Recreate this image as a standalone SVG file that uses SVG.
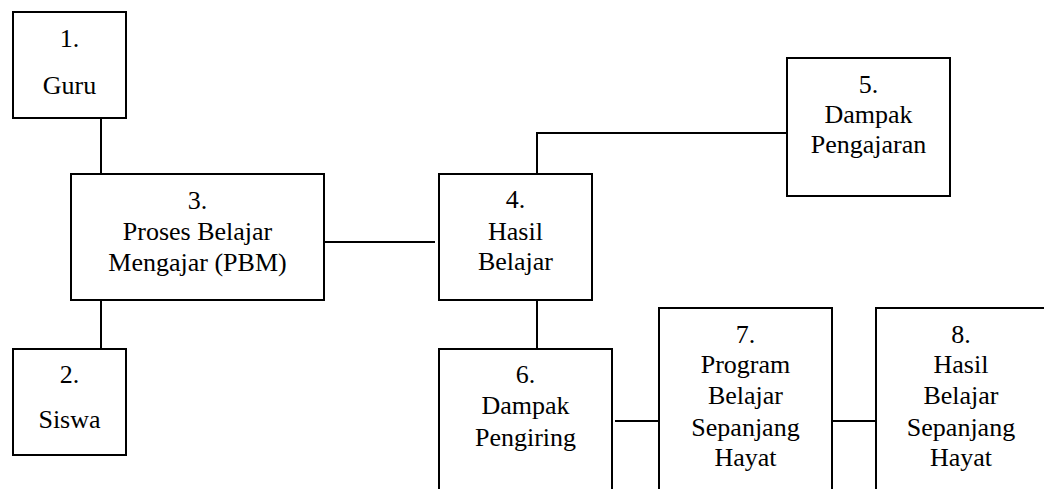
<svg xmlns="http://www.w3.org/2000/svg" width="1044" height="489" viewBox="0 0 1044 489" font-family="Liberation Serif, Times New Roman, DejaVu Serif, serif">
<style>
.box{fill:#fff;stroke:#000;stroke-width:2}
.ln{fill:none;stroke:#000;stroke-width:2}
.t{font-size:26px;fill:#000;text-anchor:middle}
</style>
<rect width="1044" height="489" fill="#fff"/>
<g id="connectors">
<path class="ln" d="M101 118V174"/>
<path class="ln" d="M101 300V349"/>
<path class="ln" d="M324 242H435"/>
<path class="ln" d="M537 174V133H787"/>
<path class="ln" d="M537 300V349"/>
<path class="ln" d="M615 421H659"/>
<path class="ln" d="M832 421H876"/>
</g>
<g id="node1" class="t">
<rect class="box" x="13" y="12" width="113" height="106"/>
<text x="69.5" y="47">1.</text>
<text x="69.5" y="94">Guru</text>
</g>
<g id="node2" class="t">
<rect class="box" x="13" y="349" width="113" height="106"/>
<text x="69.5" y="383">2.</text>
<text x="69.5" y="428">Siswa</text>
</g>
<g id="node3" class="t">
<rect class="box" x="71" y="174" width="253" height="126"/>
<text x="197.5" y="209">3.</text>
<text x="197.5" y="240">Proses Belajar</text>
<text x="197.5" y="271">Mengajar (PBM)</text>
</g>
<g id="node4" class="t">
<rect class="box" x="439" y="174" width="153" height="126"/>
<text x="515.5" y="208">4.</text>
<text x="515.5" y="240">Hasil</text>
<text x="515.5" y="270">Belajar</text>
</g>
<g id="node5" class="t">
<rect class="box" x="787" y="58" width="163" height="138"/>
<text x="868.5" y="93">5.</text>
<text x="868.5" y="123">Dampak</text>
<text x="868.5" y="153">Pengajaran</text>
</g>
<g id="node6" class="t">
<rect class="box" x="439" y="349" width="173" height="200"/>
<text x="525.5" y="383">6.</text>
<text x="525.5" y="414">Dampak</text>
<text x="525.5" y="446">Pengiring</text>
</g>
<g id="node7" class="t">
<rect class="box" x="659" y="308" width="173" height="200"/>
<text x="745.5" y="343">7.</text>
<text x="745.5" y="373">Program</text>
<text x="745.5" y="404">Belajar</text>
<text x="745.5" y="436">Sepanjang</text>
<text x="745.5" y="466">Hayat</text>
</g>
<g id="node8" class="t">
<rect class="box" x="876" y="308" width="173" height="200"/>
<text x="961" y="343">8.</text>
<text x="961" y="373">Hasil</text>
<text x="961" y="404">Belajar</text>
<text x="961" y="436">Sepanjang</text>
<text x="961" y="466">Hayat</text>
</g>
</svg>
